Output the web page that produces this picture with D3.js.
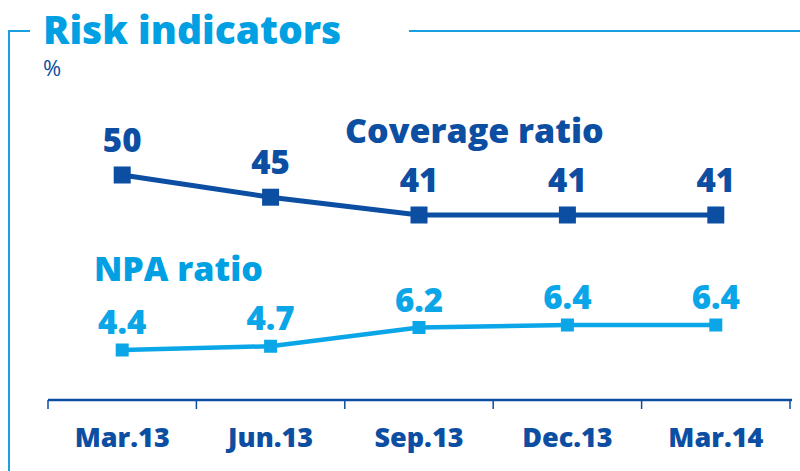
<!DOCTYPE html>
<html>
<head>
<meta charset="utf-8">
<script src="https://cdn.jsdelivr.net/npm/d3@7"></script>
<style>
    body { margin: 0; background: #fff; }
    #chart { width: 800px; height: 471px; }
    text { font-family: "Open Sans", sans-serif; font-weight: 800; }
</style>
</head>
<body>
<div id="chart"></div>
<script>
// data
const quarters = ["Mar.13", "Jun.13", "Sep.13", "Dec.13", "Mar.14"];
const coverage = [50, 45, 41, 41, 41];
const npa = [4.4, 4.7, 6.2, 6.4, 6.4];

const darkBlue = "#0c4ea2";
const lightBlue = "#00a0e3";

const width = 800;
const height = 471;

const svg = d3.select("#chart")
    .append("svg")
    .attr("width", width)
    .attr("height", height);

/*
FRAME + TITLE
*/
svg.append("path")
    .attr("d", "M9,471 V31 H30 M409,31 H800")
    .attr("fill", "none")
    .attr("stroke", "#1a9fe0")
    .attr("stroke-width", 2);

svg.append("text")
    .attr("x", 43)
    .attr("y", 44)
    .attr("fill", lightBlue)
    .style("font-size", "39px")
    .text("Risk indicators");

svg.append("text")
    .attr("x", 43)
    .attr("y", 76)
    .attr("fill", darkBlue)
    .style("font-size", "22px")
    .style("font-weight", "normal")
    .text("%");

/*
SCALES
*/
const xScale = d3.scaleBand()
    .domain(quarters)
    .range([48, 790]);

// each series has its own scale
const yCov = d3.scaleLinear()
    .domain([41, 50])
    .range([215, 175]);

const yNpa = d3.scaleLinear()
    .domain([4.4, 6.4])
    .range([350, 325]);

/*
AXIS
*/
const xAxis = svg.append("g")
    .attr("transform", "translate(0,400)")
    .call(d3.axisBottom(xScale).tickSize(0).tickPadding(28));

xAxis.select(".domain").remove();
xAxis.selectAll("text")
    .attr("fill", darkBlue)
    .style("font-size", "27px")
    .style("font-family", "'Open Sans', sans-serif")
    .style("font-weight", "800");

xAxis.append("line")
    .attr("x1", 48).attr("x2", 792)
    .attr("stroke", darkBlue)
    .attr("stroke-width", 2.5);

const bounds = quarters.map(function(q) { return xScale(q); }).concat([xScale.range()[1]]);
xAxis.selectAll(".edge")
    .data(bounds)
    .enter()
    .append("line")
        .attr("class", "edge")
        .attr("x1", function(d) { return d; })
        .attr("x2", function(d) { return d; })
        .attr("y1", 0)
        .attr("y2", 9)
        .attr("stroke", darkBlue)
        .attr("stroke-width", 1.5);

/*
LINES
*/
function drawSeries(values, yScale, color, lineWidth, size, labelGap, fontSize) {
    const cx = function(d, i) { return xScale(quarters[i]) + xScale.bandwidth() / 2; };

    const line = d3.line()
        .x(cx)
        .y(function(d) { return yScale(d); });

    svg.append("path")
        .datum(values)
        .attr("d", line)
        .attr("fill", "none")
        .attr("stroke", color)
        .attr("stroke-width", lineWidth);

    svg.append("g").selectAll("rect")
        .data(values)
        .enter()
        .append("rect")
            .attr("x", function(d, i) { return cx(d, i) - size / 2; })
            .attr("y", function(d) { return yScale(d) - size / 2; })
            .attr("width", size)
            .attr("height", size)
            .attr("fill", color);

    svg.append("g").selectAll("text")
        .data(values)
        .enter()
        .append("text")
            .attr("x", cx)
            .attr("y", function(d) { return yScale(d) - labelGap; })
            .attr("text-anchor", "middle")
            .attr("fill", color)
            .style("font-size", fontSize)
            .text(function(d) { return d; });
}

drawSeries(coverage, yCov, darkBlue, 5, 17, 23, "33px");
drawSeries(npa, yNpa, "#0aa6e8", 4.5, 13, 16, "33px");

/*
SERIES LABELS
*/
svg.append("text")
    .attr("x", 345)
    .attr("y", 143)
    .attr("fill", darkBlue)
    .style("font-size", "34px")
    .text("Coverage ratio");

svg.append("text")
    .attr("x", 94)
    .attr("y", 281)
    .attr("fill", lightBlue)
    .style("font-size", "34px")
    .text("NPA ratio");
</script>
</body>
</html>
